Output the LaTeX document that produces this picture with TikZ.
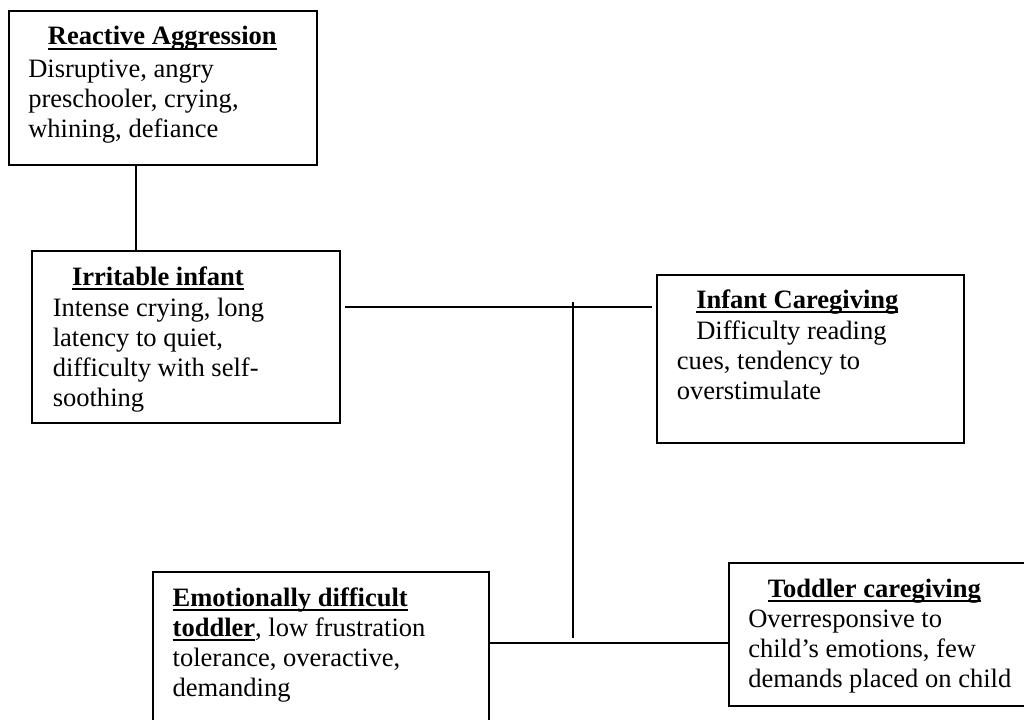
\documentclass[tikz,border=0pt]{standalone}
\usepackage{fontspec}
\setmainfont{Liberation Serif}
\usetikzlibrary{calc}
\newcommand\bodyfont{\fontsize{19.9pt}{22.5pt}\selectfont}
\newcommand\myul[1]{\setbox0\hbox{#1}\rlap{\rule[-0.2em]{\wd0}{0.07em}}\box0}
\tikzset{
  box/.style={draw=black, line width=1.5pt, rectangle, inner sep=0pt, anchor=north west, fill=none},
  txt/.style={anchor=base west, inner sep=0pt, font=\bodyfont},
  link/.style={draw=black, line width=1.35pt},
  stem/.style={draw=black, line width=1.5pt}
}
\begin{document}
\begin{tikzpicture}[x=0.75pt,y=-0.75pt]
\clip (0,0) rectangle (1024,719);
\fill[white] (0,0) rectangle (1024,719);
% boxes
\node[box, minimum width=230.8pt, minimum height=115.3pt] (b1) at (7.8,10) {};
\node[box, minimum width=230.7pt, minimum height=129pt] (b2) at (31.4,250) {};
\node[box, minimum width=230.7pt, minimum height=126.2pt] (b3) at (655.8,273.7) {};
\node[box, minimum width=252.4pt, minimum height=150pt] (b4) at (151.5,571.3) {};
\node[box, minimum width=228pt, minimum height=107.5pt] (b5) at (727.6,561.7) {};
% texts
\node[txt] (t1a) at (47.7,44.5) {\myul{\textbf{Reactive Aggression}}};
\node[txt] (t1b) at (28,77) {Disruptive, angry};
\node[txt] (t1c) at (28,107) {preschooler, crying,};
\node[txt] (t1d) at (28,137) {whining, defiance};
\node[txt] (t2a) at (71.8,285) {\myul{\textbf{Irritable infant}}};
\node[txt] (t2b) at (52.5,316) {Intense crying, long};
\node[txt] (t2c) at (52.5,346) {latency to quiet,};
\node[txt] (t2d) at (52.5,376) {difficulty with self-};
\node[txt] (t2e) at (52.5,406) {soothing};
\node[txt] (t3a) at (696,308) {\myul{\textbf{Infant Caregiving}}};
\node[txt] (t3b) at (696,339) {Difficulty reading};
\node[txt] (t3c) at (676.5,369) {cues, tendency to};
\node[txt] (t3d) at (676.5,399) {overstimulate};
\node[txt] (t4a) at (172.4,606) {\myul{\textbf{Emotionally difficult}}};
\node[txt] (t4b) at (172.4,636) {\myul{\textbf{toddler}}, low frustration};
\node[txt] (t4c) at (172.4,666) {tolerance, overactive,};
\node[txt] (t4d) at (172.4,696) {demanding};
\node[txt] (t5a) at (767.5,597) {\myul{\textbf{Toddler caregiving}}};
\node[txt] (t5b) at (748,627) {Overresponsive to};
\node[txt] (t5c) at (748,657) {child’s emotions, few};
\node[txt] (t5d) at (748,687) {demands placed on child};
% connectors
\coordinate (j1) at (136,0);
\coordinate (h1) at (0,307.3);
\coordinate (h2) at (0,642.7);
\coordinate (v1) at (572.7,301.7);
\coordinate (v2) at (572.7,638.3);
\draw[link] (b1.south -| j1) -- (b2.north -| j1);
\draw[link] ($(b2.east |- h1)+(4.3,0)$) -- ($(b3.west |- h1)+(-4,0)$);
\draw[stem] (v1) -- (v2);
\draw[link] (b4.east |- h2) -- (b5.west |- h2);
\end{tikzpicture}
\end{document}
